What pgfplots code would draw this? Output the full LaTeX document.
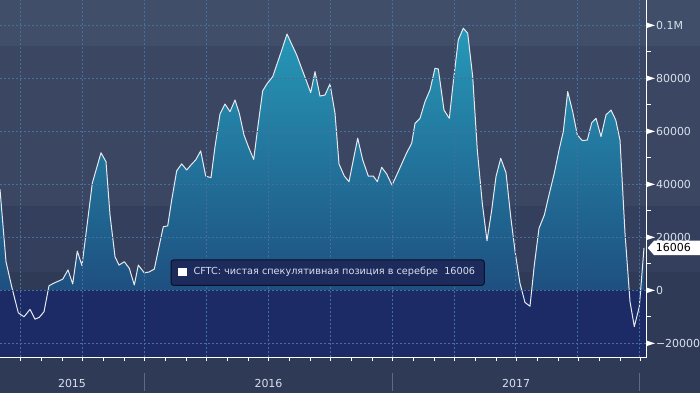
\documentclass[border=0pt]{standalone}
\usepackage{pgfplots}
\usepackage{pgfplotstable}
\pgfplotsset{compat=1.18}
\usepackage{fontspec}
\setmainfont{DejaVu Sans}
\definecolor{bgA}{HTML}{404E6A}
\definecolor{bgB}{HTML}{3A4662}
\definecolor{bgC}{HTML}{333F5C}
\definecolor{bgD}{HTML}{2F3A57}
\definecolor{navy}{HTML}{1C2B65}
\definecolor{filltop}{HTML}{2699B8}
\definecolor{fillbot}{RGB}{29,69,120}
\definecolor{gridc}{HTML}{46709A}
\definecolor{lab}{HTML}{D8E0EC}
\definecolor{legbg}{HTML}{1C2A5C}
\definecolor{legbd}{HTML}{0B1126}
\definecolor{sepc}{HTML}{5E6A84}
\definecolor{linec}{HTML}{E6EAF0}
\newcommand{\tri}{\begin{tikzpicture}[baseline=-0.36em]\fill[white] (0,2.7pt)--(8.3pt,0)--(0,-2.7pt)--cycle;\end{tikzpicture}}

% x: position along the time axis (1 unit = 1 px; Jan 2016 = 144.3, Jan 2017 = 392.7)
\pgfplotstableread{
x y
0 38100
6 10800
11.7 1400
18.3 -8500
24 -10000
30 -7200
35 -10900
39.3 -10200
44 -8100
49 1700
53.3 2600
62.7 4200
68 7700
72.7 2400
77.3 14800
82 9300
87.3 25300
92.3 40400
101 51900
106 48500
110 28500
115 12700
119 9500
124.3 10800
129.3 8300
134.3 2000
138.3 9500
144.3 6600
149 6900
154.3 8000
158.3 15200
163.3 24000
167.7 24300
171.7 34100
176.7 45100
181.7 47700
186.7 45400
191 47300
195.7 49200
200.7 52600
205.7 43100
211 42500
215 54200
220 66500
225 70300
230 67400
235 71800
239.3 66800
244 58600
249 53600
253.7 49400
258.3 63000
262.7 75300
267.3 78100
272.7 80600
277.3 85700
282 90900
287 96700
292 92600
296.7 88800
301 84400
306 79400
310.7 74600
315 82500
320 73300
325 73700
330 77900
335 66800
339 47700
344.3 43100
349 41000
353.3 49200
357.7 57400
362.7 49200
368.3 43100
373.3 43100
377.3 41000
381.7 46400
386.7 43900
392 39700
396.7 43500
401.7 47700
406.7 51900
411.7 55500
415 63000
420 64900
425 71200
430 75600
435 83800
438.3 83500
444 68000
449.3 64900
453.3 78700
458.3 94500
463.3 98900
467.7 97000
472.7 80600
477.3 52900
482.3 32800
487 18700
491.7 30300
496 42900
500.7 49800
506 44400
510.7 27800
515.3 14000
520 2600
525 -4600
530 -6000
534.3 9500
539 23400
544.3 28400
549 36000
554.3 44200
559 52900
563.3 59900
567.7 75000
572.7 67400
577.3 58600
582.3 56500
587.3 56700
591.7 63200
596 64900
601 58000
606 66200
611 68000
615.7 64300
620 56700
625 21500
630 -4300
634.3 -13700
639.3 -6200
644 16006
}\silver

\begin{document}
\begin{tikzpicture}[x=1pt,y=1pt]
\useasboundingbox (0,0) rectangle (700,393);
\fill[bgD] (0,0) rectangle (700,121);
\fill[bgC] (0,121) rectangle (700,187);
\fill[bgB] (0,187) rectangle (700,347);
\fill[bgA] (0,347) rectangle (700,393);
\begin{axis}[
  at={(0pt,36pt)}, anchor=south west,
  width=646.5pt, height=357pt, scale only axis,
  xmin=0, xmax=646.5, ymin=-25170, ymax=109548,
  scaled y ticks=false, scaled x ticks=false,
  axis on top,
  axis x line*=bottom, axis y line*=right,
  axis line style={white, line width=0.9pt},
  xtick={72,268.5,516}, xticklabels={2015,2016,2017},
  minor xtick={20.7,41.37,...,641},
  extra x ticks={20.7,82.7,144.3,206.3,268.7,330.7,392.7,454.3,515.7,577.7,639.3},
  extra x tick labels={},
  extra x tick style={grid=major},
  ytick={-20000,0,20000,40000,60000,80000,100000},
  yticklabels={{\tri\hspace{1pt}−20000},{\tri\hspace{1pt}0},{\tri\hspace{1pt}20000},{\tri\hspace{1pt}40000},{\tri\hspace{1pt}60000},{\tri\hspace{1pt}80000},{\tri\hspace{1pt}0.1M}},
  minor ytick={-10000,10000,30000,50000,70000,90000},
  ymajorgrids=true,
  grid style={gridc, dash pattern=on 2pt off 2pt, line width=0.6pt},
  major tick length=0pt, minor tick length=4pt, tick align=outside,
  minor tick style={white, line width=0.8pt},
  tick label style={font=\fontsize{11}{13}\selectfont, text=lab},
  xticklabel style={anchor=center, inner sep=0pt, yshift=-26pt},
  yticklabel style={anchor=west, inner sep=0pt},
]
\addplot[draw=none, top color=filltop, bottom color=fillbot] table[x=x,y=y] {\silver} \closedcycle;
\fill[navy] (axis cs:0,-25170) rectangle (axis cs:646.5,0);
\addplot[color=linec, line width=1pt, line join=round] table[x=x,y=y] {\silver};
\end{axis}
\draw[sepc, line width=0.8pt] (144.3,2) -- (144.3,20);
\draw[sepc, line width=0.8pt] (392.7,2) -- (392.7,20);
\draw[sepc, line width=0.8pt] (639.3,2) -- (639.3,20);
\draw[legbd, fill=legbg, line width=1pt, rounded corners=2.5pt] (171,107.7) rectangle (484.3,133);
\fill[white] (178.3,116.7) rectangle (186.7,125.3);
\node[anchor=west, inner sep=0pt, text=lab, font=\fontsize{9.7}{12}\selectfont] at (193.3,121) {CFTC: чистая спекулятивная позиция в серебре\ \ 16006};
\fill[white] (647.7,145.1) -- (654,152.3) -- (700,152.3) -- (700,137.9) -- (654,137.9) -- cycle;
\node[font=\fontsize{11}{13}\selectfont, text=black, anchor=west, inner sep=0pt] at (655.7,145.1) {16006};
\end{tikzpicture}
\end{document}
